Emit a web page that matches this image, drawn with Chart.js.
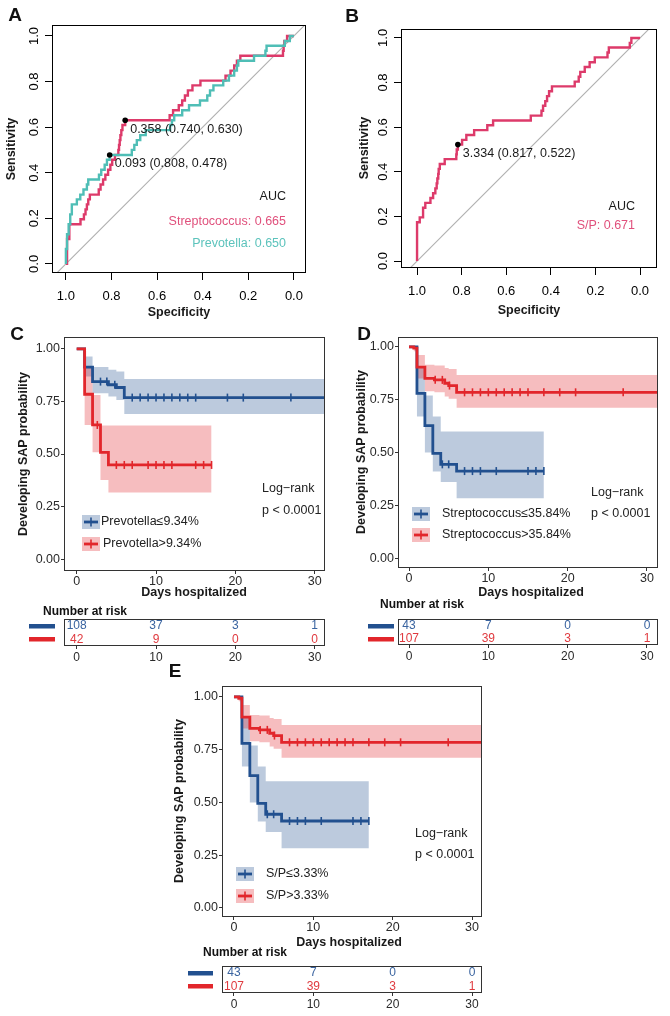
<!DOCTYPE html>
<html><head><meta charset="utf-8">
<script src="https://cdn.jsdelivr.net/npm/chart.js@4.4.1/dist/chart.umd.min.js"></script>
<style>
html,body{margin:0;padding:0;background:#fff;}
#wrap{position:relative;width:670px;height:1016px;overflow:hidden;background:#fff;}
canvas{position:absolute;left:0;top:0;}
</style></head><body><div id="wrap"></div>
<script>
// ================= DATA =================
// ROC axis ticks
const rocTickVals = [1.0, 0.8, 0.6, 0.4, 0.2, 0.0];
const rocTickText = ['1.0', '0.8', '0.6', '0.4', '0.2', '0.0'];

// Panel A: Streptococcus ROC (specificity, sensitivity) step vertices
const strepA_spec = [1.000,0.995,0.985,0.936,0.921,0.914,0.908,0.902,0.895,0.856,0.848,0.837,0.827,0.815,0.805,0.797,0.785,0.770,0.767,0.764,0.761,0.757,0.752,0.740,0.545,0.530,0.505,0.490,0.478,0.465,0.445,0.410,0.300,0.278,0.262,0.250,0.235,0.048,0.045,0.042,0.030,0.000];
const strepA_sens = [0.000,0.109,0.174,0.196,0.217,0.239,0.261,0.283,0.304,0.326,0.348,0.370,0.391,0.413,0.435,0.457,0.478,0.500,0.522,0.543,0.565,0.587,0.609,0.630,0.652,0.674,0.696,0.717,0.739,0.761,0.783,0.804,0.826,0.848,0.870,0.891,0.913,0.935,0.957,0.978,1.000,1.000];
// Panel A: Prevotella ROC
const prevA_spec = [1.000,1.000,0.995,0.988,0.981,0.974,0.952,0.937,0.923,0.908,0.902,0.855,0.845,0.830,0.820,0.808,0.711,0.700,0.689,0.674,0.650,0.543,0.535,0.525,0.490,0.460,0.412,0.380,0.368,0.353,0.310,0.285,0.262,0.250,0.244,0.175,0.125,0.120,0.040,0.018,0.000];
const prevA_sens = [0.000,0.065,0.130,0.174,0.217,0.261,0.283,0.304,0.326,0.348,0.370,0.391,0.413,0.435,0.457,0.478,0.500,0.522,0.543,0.565,0.587,0.609,0.630,0.652,0.674,0.696,0.717,0.739,0.761,0.783,0.804,0.826,0.848,0.870,0.891,0.913,0.935,0.957,0.978,1.000,1.000];
const cutA_spec = [0.740, 0.808];
const cutA_sens = [0.630, 0.478];
const cutA_thr  = [0.358, 0.093];
const aucA = [0.665, 0.650];
const aucA_names = ['Streptococcus', 'Prevotella'];

// Panel B: S/P ROC
const spB_spec = [1.000,1.000,0.988,0.973,0.963,0.940,0.928,0.918,0.912,0.909,0.905,0.903,0.898,0.876,0.824,0.822,0.817,0.798,0.779,0.744,0.685,0.659,0.490,0.442,0.435,0.425,0.417,0.408,0.395,0.293,0.275,0.268,0.248,0.226,0.203,0.146,0.140,0.046,0.039,0.000];
const spB_sens = [0.000,0.174,0.196,0.239,0.261,0.283,0.304,0.326,0.348,0.370,0.391,0.413,0.435,0.457,0.478,0.500,0.522,0.543,0.565,0.587,0.609,0.630,0.652,0.674,0.696,0.717,0.739,0.761,0.783,0.804,0.826,0.848,0.870,0.891,0.913,0.935,0.957,0.978,1.000,1.000];
const cutB_spec = [0.817];
const cutB_sens = [0.522];
const cutB_thr  = [3.334];
const aucB = [0.671];
const aucB_names = ['S/P'];

// Kaplan-Meier axis ticks
const kmTicksX = [0, 10, 20, 30];
const kmTickTextX = ['0', '10', '20', '30'];
const kmTicksY = [0, 0.25, 0.5, 0.75, 1];
const kmTickTextY = ['0.00', '0.25', '0.50', '0.75', '1.00'];

// Panel C: Prevotella<=9.34% (low) and >9.34% (high)
const C_lowT   = [0, 1, 2, 4, 5, 6, 31.3];
const C_lowS   = [1, 0.913, 0.844, 0.829, 0.816, 0.768, 0.768];
const C_lowHi  = [1, 0.963, 0.913, 0.900, 0.892, 0.856, 0.856];
const C_lowLo  = [1, 0.868, 0.789, 0.773, 0.757, 0.690, 0.690];
const C_lowCens = [3, 3.8, 4.8, 7, 8, 9, 10, 11, 12, 13, 14, 15, 19, 21, 27];
const C_highT  = [0, 1, 2, 3, 4, 17];
const C_highS  = [1, 0.784, 0.638, 0.508, 0.448, 0.448];
const C_highHi = [1, 0.916, 0.780, 0.635, 0.635, 0.635];
const C_highLo = [1, 0.638, 0.508, 0.376, 0.317, 0.317];
const C_highCens = [2.6, 5, 6, 7, 9, 10, 11, 12, 15, 16, 17];

// Panel D: Streptococcus<=35.84% (low) and >35.84% (high)
const D_lowT   = [0, 1, 2, 3, 4, 6, 17];
const D_lowS   = [1, 0.780, 0.627, 0.496, 0.444, 0.412, 0.412];
const D_lowHi  = [1, 0.900, 0.770, 0.670, 0.600, 0.600, 0.600];
const D_lowLo  = [1, 0.670, 0.500, 0.410, 0.360, 0.283, 0.283];
const D_lowCens = [4.2, 5, 7, 8, 9, 11, 15, 16, 17];
const D_highT  = [0, 0.6, 1, 2, 3.2, 4.5, 5, 6, 31.3];
const D_highS  = [1, 0.994, 0.904, 0.851, 0.844, 0.828, 0.817, 0.785, 0.785];
const D_highHi = [1, 1, 0.962, 0.915, 0.912, 0.900, 0.895, 0.867, 0.867];
const D_highLo = [1, 0.980, 0.850, 0.790, 0.785, 0.765, 0.755, 0.712, 0.712];
const D_highCens = [3.3, 4.2, 5.1, 7, 8, 9, 10, 11, 12, 13, 14, 15, 17, 19, 21, 27];

// Panel E: S/P<=3.33% (low) and >3.33% (high) — same curves as read in D
const E_lowT   = [0, 1, 2, 3, 4, 6, 17];
const E_lowS   = [1, 0.780, 0.627, 0.496, 0.444, 0.412, 0.412];
const E_lowHi  = [1, 0.900, 0.770, 0.670, 0.600, 0.600, 0.600];
const E_lowLo  = [1, 0.670, 0.500, 0.410, 0.360, 0.283, 0.283];
const E_lowCens = [4.2, 5, 7, 8, 9, 11, 15, 16, 17];
const E_highT  = [0, 0.6, 1, 2, 3.2, 4.5, 5, 6, 31.3];
const E_highS  = [1, 0.994, 0.904, 0.851, 0.844, 0.828, 0.817, 0.785, 0.785];
const E_highHi = [1, 1, 0.962, 0.915, 0.912, 0.900, 0.895, 0.867, 0.867];
const E_highLo = [1, 0.980, 0.850, 0.790, 0.785, 0.765, 0.755, 0.712, 0.712];
const E_highCens = [3.3, 4.2, 5.1, 7, 8, 9, 10, 11, 12, 13, 14, 15, 17, 19, 21, 27];

// Number at risk
const riskTimes = [0, 10, 20, 30];
const C_riskLow = [108, 37, 3, 1];
const C_riskHigh = [42, 9, 0, 0];
const D_riskLow = [43, 7, 0, 0];
const D_riskHigh = [107, 39, 3, 1];
const E_riskLow = [43, 7, 0, 0];
const E_riskHigh = [107, 39, 3, 1];

// Legend labels
const C_labels = ['Prevotella\u22649.34%', 'Prevotella>9.34%'];
const D_labels = ['Streptococcus\u226435.84%', 'Streptococcus>35.84%'];
const E_labels = ['S/P\u22643.33%', 'S/P>3.33%'];

// ================= STYLE / LAYOUT =================
const FONT = "'Liberation Sans', Arial, Helvetica, sans-serif";
Chart.defaults.font.family = FONT;
Chart.defaults.animation = false;
Chart.defaults.plugins.legend.display = false;
Chart.defaults.plugins.tooltip.enabled = false;
const W = 670, H = 1016;
const PINK = '#DD3A6A', TEAL = '#4FBEB6';
const BLUE = '#22508F', RED = '#E2262B';
const BLUE_BAND = 'rgba(34,80,143,0.30)', RED_BAND = 'rgba(226,38,43,0.30)';
const BLUE_TXT = '#3A64A0', RED_TXT = '#E03A3F';

function makeCanvas() {
  const c = document.createElement('canvas');
  c.width = W; c.height = H;
  c.style.width = W + 'px'; c.style.height = H + 'px';
  document.getElementById('wrap').appendChild(c);
  return c;
}
function pts(xs, ys) { return xs.map((x, i) => ({x: x, y: ys[i]})); }
function stepAt(ts, vs, t) { let v = vs[0]; for (let i = 0; i < ts.length; i++) { if (ts[i] <= t) v = vs[i]; } return v; }
function txt(ctx, t, x, y, o) {
  o = o || {};
  ctx.save();
  ctx.font = (o.bold ? 'bold ' : '') + (o.size || 12.5) + 'px ' + FONT;
  ctx.fillStyle = o.color || '#1a1a1a';
  ctx.textAlign = o.align || 'left';
  ctx.textBaseline = 'middle';
  ctx.translate(x, y);
  if (o.rot) ctx.rotate(o.rot);
  ctx.fillText(t, 0, 0);
  ctx.restore();
}
function frame(ctx, a, color) {
  ctx.save(); ctx.strokeStyle = color; ctx.lineWidth = 1;
  ctx.strokeRect(Math.round(a.left) + 0.5, Math.round(a.top) + 0.5, Math.round(a.right - a.left) - 1, Math.round(a.bottom - a.top) - 1);
  ctx.restore();
}
function pad(box, yW, xH) { return {left: box.L - yW, top: box.T, right: W - box.R, bottom: H - box.B - xH}; }
function fixedTicks(vals) { return function (s) { s.ticks = vals.map(v => ({value: v})); }; }

// ================= ROC charts =================
function rocChart(o) {
  const ds = [];
  ds.push({data: [{x: 1.4, y: -0.4}, {x: -0.4, y: 1.4}], borderColor: '#b0b0b0', borderWidth: 1.1, pointRadius: 0, order: 50});
  o.curves.forEach((c, i) => ds.push({data: pts(c.spec, c.sens), stepped: true, borderColor: c.color, borderWidth: 2.4, pointRadius: 0, borderJoinStyle: 'miter', order: 20 - i}));
  ds.push({data: pts(o.cut.spec, o.cut.sens), showLine: false, pointRadius: 2.8, pointBackgroundColor: '#000', pointBorderColor: '#000', pointBorderWidth: 0, order: 1});
  new Chart(makeCanvas(), {
    type: 'line',
    data: {datasets: ds},
    options: {
      responsive: false, devicePixelRatio: 1, animation: false,
      layout: {padding: pad(o.box, 30, 40), autoPadding: false},
      scales: {
        x: {type: 'linear', reverse: true, min: o.xr[0], max: o.xr[1],
            afterBuildTicks: fixedTicks(rocTickVals), afterFit: s => { s.height = 40; },
            ticks: {callback: v => rocTickText[rocTickVals.indexOf(v)], color: '#000', font: {size: 13}, padding: 9, maxRotation: 0, autoSkip: false},
            grid: {drawOnChartArea: false, tickLength: 7, color: '#000'}, border: {display: false}},
        y: {type: 'linear', min: o.yr[0], max: o.yr[1],
            afterBuildTicks: fixedTicks(rocTickVals), afterFit: s => { s.width = 30; },
            ticks: {callback: v => rocTickText[rocTickVals.indexOf(v)], color: '#000', font: {size: 13}, padding: 2, minRotation: 90, maxRotation: 90, crossAlign: 'center', autoSkip: false},
            grid: {drawOnChartArea: false, tickLength: 7, color: '#000'}, border: {display: false}}
      }
    },
    plugins: [{id: 'deco', afterDraw(chart) {
      const ctx = chart.ctx, a = chart.chartArea;
      frame(ctx, a, '#000');
      const meta = chart.getDatasetMeta(ds.length - 1);
      meta.data.forEach((el, i) => {
        const lab = o.cut.thr[i].toFixed(3) + ' (' + o.cut.spec[i].toFixed(3) + ', ' + o.cut.sens[i].toFixed(3) + ')';
        txt(ctx, lab, el.x + 5, el.y + 9, {size: 12.5, color: '#1a1a1a'});
      });
      o.deco(ctx);
    }}]
  });
}

rocChart({
  box: {L: 52, T: 25, R: 306, B: 273}, xr: [-0.053, 1.061], yr: [-0.04, 1.048],
  curves: [{spec: strepA_spec, sens: strepA_sens, color: PINK}, {spec: prevA_spec, sens: prevA_sens, color: TEAL}],
  cut: {spec: cutA_spec, sens: cutA_sens, thr: cutA_thr},
  deco(ctx) {
    txt(ctx, 'A', 15, 16, {bold: true, size: 19, align: 'center', color: '#111'});
    txt(ctx, 'Sensitivity', 12, 149, {bold: true, size: 12.5, align: 'center', rot: -Math.PI / 2});
    txt(ctx, 'Specificity', 179, 313, {bold: true, size: 12.5, align: 'center'});
    txt(ctx, 'AUC', 286, 197, {align: 'right', size: 12.5});
    txt(ctx, aucA_names[0] + ': ' + aucA[0].toFixed(3), 286, 222, {align: 'right', size: 12.5, color: '#E0507C'});
    txt(ctx, aucA_names[1] + ': ' + aucA[1].toFixed(3), 286, 244, {align: 'right', size: 12.5, color: '#5CC3BC'});
  }
});

rocChart({
  box: {L: 401, T: 29, R: 657, B: 268}, xr: [-0.076, 1.072], yr: [-0.031, 1.04],
  curves: [{spec: spB_spec, sens: spB_sens, color: PINK}],
  cut: {spec: cutB_spec, sens: cutB_sens, thr: cutB_thr},
  deco(ctx) {
    txt(ctx, 'B', 352, 17, {bold: true, size: 19, align: 'center', color: '#111'});
    txt(ctx, 'Sensitivity', 365, 148, {bold: true, size: 12.5, align: 'center', rot: -Math.PI / 2});
    txt(ctx, 'Specificity', 529, 311, {bold: true, size: 12.5, align: 'center'});
    txt(ctx, 'AUC', 635, 207, {align: 'right', size: 12.5});
    txt(ctx, aucB_names[0] + ': ' + aucB[0].toFixed(3), 635, 226, {align: 'right', size: 12.5, color: '#E0507C'});
  }
});

// ================= KM charts =================
function kmIcon(ctx, x, y, color, band) {
  ctx.save();
  ctx.fillStyle = band; ctx.fillRect(x - 9, y - 7, 18, 14);
  ctx.strokeStyle = color; ctx.lineWidth = 2.8;
  ctx.beginPath(); ctx.moveTo(x - 7, y); ctx.lineTo(x + 7, y); ctx.stroke();
  ctx.lineWidth = 1.6;
  ctx.beginPath(); ctx.moveTo(x, y - 4.5); ctx.lineTo(x, y + 4.5); ctx.stroke();
  ctx.restore();
}
function kmChart(o) {
  const ds = [];
  o.groups.forEach((g, gi) => {
    ds.push({data: pts(g.t, g.hi), stepped: true, borderWidth: 0, pointRadius: 0, fill: '+1', backgroundColor: g.band, order: 40 - gi});
    ds.push({data: pts(g.t, g.lo), stepped: true, borderWidth: 0, pointRadius: 0, fill: false, order: 40 - gi});
  });
  o.groups.forEach((g, gi) => {
    ds.push({data: pts(g.t, g.s), stepped: true, borderColor: g.color, borderWidth: 2.8, pointRadius: 0, fill: false, borderJoinStyle: 'miter', borderCapStyle: 'butt', order: 20 - gi});
  });
  o.groups.forEach((g, gi) => {
    ds.push({data: g.cens.map(t => ({x: t, y: stepAt(g.t, g.s, t)})), showLine: false, pointStyle: 'line', rotation: 90, pointRadius: 4, pointBorderColor: g.color, pointBackgroundColor: g.color, pointBorderWidth: 1.6, order: 5 - gi});
  });
  new Chart(makeCanvas(), {
    type: 'line',
    data: {datasets: ds},
    options: {
      responsive: false, devicePixelRatio: 1, animation: false,
      layout: {padding: pad(o.box, 30, 30), autoPadding: false},
      scales: {
        x: {type: 'linear', min: o.xr[0], max: o.xr[1],
            afterBuildTicks: fixedTicks(kmTicksX), afterFit: s => { s.height = 30; },
            ticks: {callback: v => kmTickTextX[kmTicksX.indexOf(v)], color: '#2a2a2a', font: {size: 12.5}, padding: 0, maxRotation: 0, autoSkip: false},
            grid: {drawOnChartArea: false, tickLength: 3, color: '#333'}, border: {display: false}},
        y: {type: 'linear', min: o.yr[0], max: o.yr[1],
            afterBuildTicks: fixedTicks(kmTicksY), afterFit: s => { s.width = 30; },
            ticks: {callback: v => kmTickTextY[kmTicksY.indexOf(v)], color: '#2a2a2a', font: {size: 12.5}, padding: 1, autoSkip: false},
            grid: {drawOnChartArea: false, tickLength: 3, color: '#333'}, border: {display: false}}
      }
    },
    plugins: [{id: 'deco', afterDraw(chart) {
      const ctx = chart.ctx, a = chart.chartArea;
      frame(ctx, a, '#333');
      const d = o.deco;
      txt(ctx, d.letter, d.letterPos[0], d.letterPos[1], {bold: true, size: 19, align: 'center', color: '#111'});
      txt(ctx, 'Developing SAP probability', d.yTitle[0], d.yTitle[1], {bold: true, size: 12.5, align: 'center', rot: -Math.PI / 2});
      txt(ctx, 'Days hospitalized', d.xTitle[0], d.xTitle[1], {bold: true, size: 12.5, align: 'center'});
      o.groups.forEach((g, gi) => {
        kmIcon(ctx, d.icon[0], d.icon[1 + gi], g.color, g.band);
        txt(ctx, o.labels[gi], d.legText[gi], d.icon[1 + gi], {size: 12.5, color: '#222'});
      });
      txt(ctx, 'Log\u2212rank', d.logrank[0], d.logrank[1], {size: 12.5, color: '#222'});
      txt(ctx, 'p < 0.0001', d.logrank[0], d.logrank[2], {size: 12.5, color: '#222'});
    }}]
  });
}

function riskTable(o) {
  const ds = [
    {data: riskTimes.map(t => ({x: t, y: 0.75})), showLine: false, pointRadius: 0},
    {data: riskTimes.map(t => ({x: t, y: 0.25})), showLine: false, pointRadius: 0}
  ];
  new Chart(makeCanvas(), {
    type: 'line',
    data: {datasets: ds},
    options: {
      responsive: false, devicePixelRatio: 1, animation: false,
      layout: {padding: pad(o.box, 0, 30), autoPadding: false},
      scales: {
        x: {type: 'linear', min: o.xr[0], max: o.xr[1],
            afterBuildTicks: fixedTicks(kmTicksX), afterFit: s => { s.height = 30; },
            ticks: {callback: v => kmTickTextX[kmTicksX.indexOf(v)], color: '#2a2a2a', font: {size: 12}, padding: 1, maxRotation: 0, autoSkip: false},
            grid: {drawOnChartArea: false, tickLength: 3, color: '#333'}, border: {display: false}},
        y: {type: 'linear', min: 0, max: 1, display: false}
      }
    },
    plugins: [{id: 'deco', afterDraw(chart) {
      const ctx = chart.ctx, a = chart.chartArea;
      frame(ctx, a, '#333');
      const rows = [o.low, o.high], cols = [BLUE_TXT, RED_TXT], lines = [BLUE, RED];
      rows.forEach((r, ri) => {
        const meta = chart.getDatasetMeta(ri);
        meta.data.forEach((el, i) => txt(ctx, String(r[i]), el.x, el.y, {size: 12, align: 'center', color: cols[ri]}));
        const yy = meta.data[0].y;
        ctx.fillStyle = lines[ri];
        ctx.fillRect(o.bar[0], Math.round(yy) - 2, o.bar[1] - o.bar[0], 4.5);
      });
      txt(ctx, 'Number at risk', o.title[0], o.title[1], {bold: true, size: 12, color: '#111'});
    }}]
  });
}

// Panel C
kmChart({
  box: {L: 64, T: 337, R: 325, B: 571}, xr: [-1.6, 31.3], yr: [-0.056, 1.056],
  groups: [
    {t: C_lowT, s: C_lowS, hi: C_lowHi, lo: C_lowLo, cens: C_lowCens, color: BLUE, band: BLUE_BAND},
    {t: C_highT, s: C_highS, hi: C_highHi, lo: C_highLo, cens: C_highCens, color: RED, band: RED_BAND}
  ],
  labels: C_labels,
  deco: {letter: 'C', letterPos: [17, 335], yTitle: [24, 454], xTitle: [194, 593], icon: [91, 522, 544], legText: [101, 103], logrank: [262, 489, 511]}
});
riskTable({box: {L: 64, T: 619, R: 325, B: 646}, xr: [-1.6, 31.3], low: C_riskLow, high: C_riskHigh, bar: [29, 55], title: [43, 612]});

// Panel D
kmChart({
  box: {L: 398, T: 337, R: 658, B: 568}, xr: [-1.39, 31.39], yr: [-0.047, 1.047],
  groups: [
    {t: D_lowT, s: D_lowS, hi: D_lowHi, lo: D_lowLo, cens: D_lowCens, color: BLUE, band: BLUE_BAND},
    {t: D_highT, s: D_highS, hi: D_highHi, lo: D_highLo, cens: D_highCens, color: RED, band: RED_BAND}
  ],
  labels: D_labels,
  deco: {letter: 'D', letterPos: [364, 335], yTitle: [362, 452], xTitle: [531, 593], icon: [421, 514, 535], legText: [442, 442], logrank: [591, 493, 514]}
});
riskTable({box: {L: 398, T: 619, R: 658, B: 645}, xr: [-1.39, 31.39], low: D_riskLow, high: D_riskHigh, bar: [368, 394], title: [380, 605]});

// Panel E
kmChart({
  box: {L: 222, T: 686, R: 482, B: 917}, xr: [-1.51, 31.26], yr: [-0.043, 1.052],
  groups: [
    {t: E_lowT, s: E_lowS, hi: E_lowHi, lo: E_lowLo, cens: E_lowCens, color: BLUE, band: BLUE_BAND},
    {t: E_highT, s: E_highS, hi: E_highHi, lo: E_highLo, cens: E_highCens, color: RED, band: RED_BAND}
  ],
  labels: E_labels,
  deco: {letter: 'E', letterPos: [175, 672], yTitle: [180, 801], xTitle: [349, 943], icon: [245, 874, 896], legText: [266, 266], logrank: [415, 834, 855]}
});
riskTable({box: {L: 222, T: 966, R: 482, B: 993}, xr: [-1.51, 31.26], low: E_riskLow, high: E_riskHigh, bar: [188, 213], title: [203, 953]});
</script>
</body></html>
